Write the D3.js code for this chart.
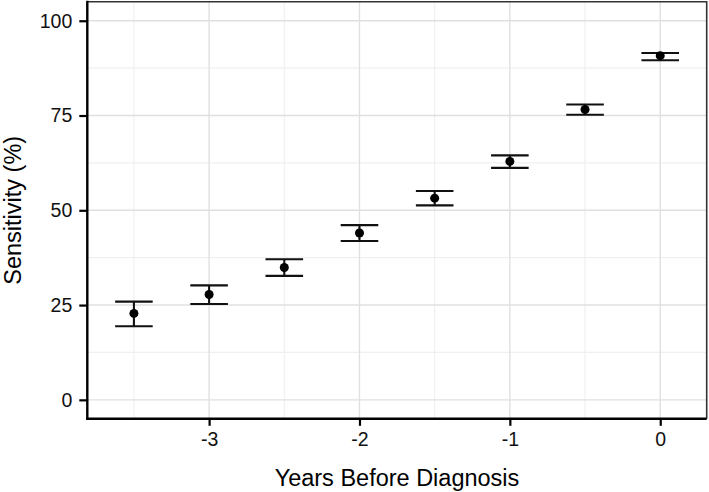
<!DOCTYPE html>
<html><head><meta charset="utf-8">
<script src="https://cdn.jsdelivr.net/npm/d3@7"></script>
<style>body{margin:0;background:#fff}svg{display:block}text{font-family:"Liberation Sans",Arial,sans-serif}</style>
</head><body><svg id="c" width="709" height="492"></svg>
<script>
const years = [-3.5, -3, -2.5, -2, -1.5, -1, -0.5, 0];
const sensitivity = [22.8, 27.8, 34.9, 44.0, 53.2, 62.9, 76.6, 90.8];
const lower = [19.4, 25.3, 32.7, 41.9, 51.3, 61.2, 75.2, 89.6];
const upper = [25.9, 30.2, 37.1, 46.1, 55.1, 64.5, 77.9, 91.5];
const xTicks = [-3, -2, -1, 0];
const xMinor = [-3.5, -2.5, -1.5, -0.5];
const yTicks = [0, 25, 50, 75, 100];
const yMinor = [12.5, 37.5, 62.5, 87.5];
const xLabel = "Years Before Diagnosis";
const yLabel = "Sensitivity (%)";

const svg = d3.select("#c");
const L = 87.3, R = 706.7, T = 1.8, B = 418.8;
const x = d3.scaleLinear().domain([-3.81, 0.309]).range([L, R]);
const y = d3.scaleLinear().domain([-5, 105]).range([B, T]);

const g = svg.append("g");
// minor grid
g.selectAll(".mx").data(xMinor).join("line").attr("x1", d => x(d)).attr("x2", d => x(d)).attr("y1", T).attr("y2", B).attr("stroke", "#f0f0f0").attr("stroke-width", 1.2);
g.selectAll(".my").data(yMinor).join("line").attr("y1", d => y(d)).attr("y2", d => y(d)).attr("x1", L).attr("x2", R).attr("stroke", "#f0f0f0").attr("stroke-width", 1.2);
// major grid
g.selectAll(".Mx").data(xTicks).join("line").attr("x1", d => x(d)).attr("x2", d => x(d)).attr("y1", T).attr("y2", B).attr("stroke", "#e0e0e0").attr("stroke-width", 1.4);
g.selectAll(".My").data(yTicks).join("line").attr("y1", d => y(d)).attr("y2", d => y(d)).attr("x1", L).attr("x2", R).attr("stroke", "#e0e0e0").attr("stroke-width", 1.4);

// panel border top/right
svg.append("path").attr("d", `M${L},${T}H${R}V${B}`).attr("fill", "none").attr("stroke", "#333").attr("stroke-width", 1.6);

// axes
const xAxis = d3.axisBottom(x).tickValues(xTicks).tickFormat(d3.format("d")).tickSize(7).tickPadding(6);
const yAxis = d3.axisLeft(y).tickValues(yTicks).tickFormat(d3.format("d")).tickSize(8).tickPadding(7);
const gx = svg.append("g").attr("transform", `translate(0,${B})`).call(xAxis);
const gy = svg.append("g").attr("transform", `translate(${L},0)`).call(yAxis);
[gx, gy].forEach(a => {
  a.select(".domain").remove();
  a.selectAll(".tick line").attr("stroke", "#000").attr("stroke-width", 2.2);
  a.selectAll(".tick text").attr("fill", "#111").style("font-size", "19.5px").style("font-family", '"Liberation Sans",Arial,sans-serif');
});
gx.selectAll(".tick text").text(d => d3.format("d")(d).replace("−", "-"));
svg.append("line").attr("x1", L).attr("x2", L).attr("y1", T - 1).attr("y2", B + 1.1).attr("stroke", "#000").attr("stroke-width", 2.4);
svg.append("line").attr("x1", L - 1.1).attr("x2", R).attr("y1", B).attr("y2", B).attr("stroke", "#000").attr("stroke-width", 2.4);

// error bars
const hw = 0.125;
const eb = svg.append("g").attr("stroke", "#111").attr("stroke-width", 2.1);
years.forEach((yr, i) => {
  eb.append("line").attr("x1", x(yr)).attr("x2", x(yr)).attr("y1", y(lower[i])).attr("y2", y(upper[i]));
  eb.append("line").attr("x1", x(yr - hw)).attr("x2", x(yr + hw)).attr("y1", y(lower[i])).attr("y2", y(lower[i]));
  eb.append("line").attr("x1", x(yr - hw)).attr("x2", x(yr + hw)).attr("y1", y(upper[i])).attr("y2", y(upper[i]));
});
svg.append("g").selectAll("circle").data(years).join("circle")
  .attr("cx", d => x(d)).attr("cy", (d, i) => y(sensitivity[i])).attr("r", 4.5).attr("fill", "#000");

// titles
svg.append("text").attr("x", (L + R) / 2).attr("y", 486).attr("text-anchor", "middle").style("font-size", "23.5px").attr("fill", "#000").text(xLabel);
svg.append("text").attr("transform", `translate(21,${(T + B) / 2}) rotate(-90)`).attr("text-anchor", "middle").style("font-size", "23.5px").attr("fill", "#000").text(yLabel);
</script></body></html>
